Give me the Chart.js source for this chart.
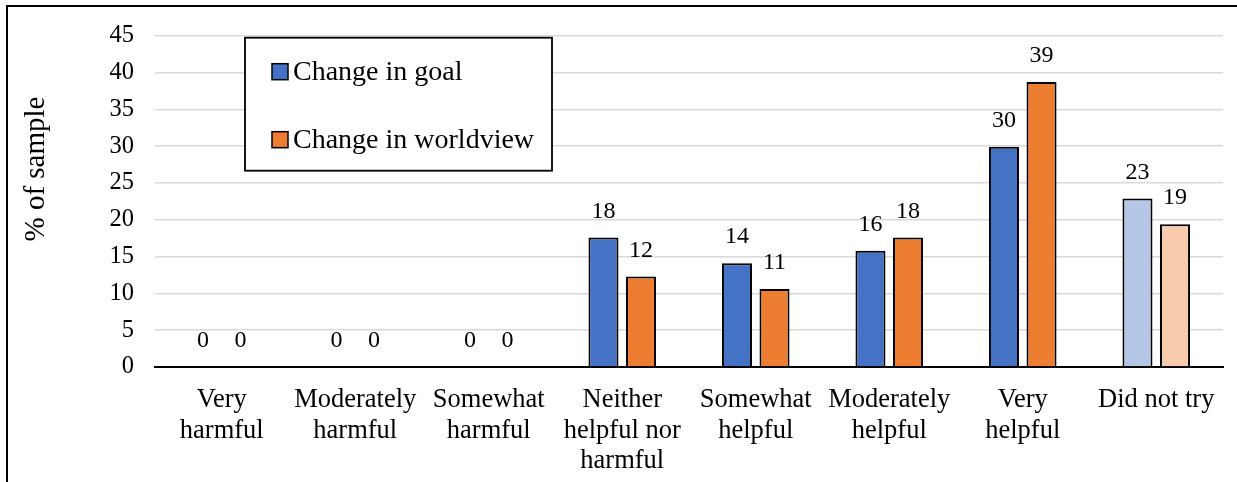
<!DOCTYPE html>
<html>
<head>
<meta charset="utf-8">
<script src="https://cdn.jsdelivr.net/npm/chart.js@4.4.0/dist/chart.umd.min.js"></script>
<style>
  html, body { margin: 0; padding: 0; background: #fff; }
  #wrap { width: 1237px; height: 482px; position: relative; }
</style>
</head>
<body>
<div id="wrap"><canvas id="chart" width="1237" height="482"></canvas></div>
<script>
// data
const categories = [
  ["Very", "harmful"],
  ["Moderately", "harmful"],
  ["Somewhat", "harmful"],
  ["Neither", "helpful nor", "harmful"],
  ["Somewhat", "helpful"],
  ["Moderately", "helpful"],
  ["Very", "helpful"],
  ["Did not try"]
];
const seriesNames = ["Change in goal", "Change in worldview"];
const goal = [0, 0, 0, 17.6, 14.1, 15.8, 29.9, 22.9];
const worldview = [0, 0, 0, 12.3, 10.6, 17.6, 38.7, 19.4];
const yMin = 0, yMax = 45, yStep = 5;
const yTitle = "% of sample";

// colours: last group is drawn paler
const blue = "#4472C4", paleBlue = "#B4C7E7";
const orange = "#ED7D31", paleOrange = "#F8CBAD";
const goalColors = categories.map((c, i) => i === categories.length - 1 ? paleBlue : blue);
const worldColors = categories.map((c, i) => i === categories.length - 1 ? paleOrange : orange);

const serif = "'Liberation Serif', 'Times New Roman', serif";

// value labels above bars + outer frame + boxed legend + axis title
const decorations = {
  id: "decorations",
  beforeDraw(chart) {
    const ctx = chart.ctx;
    ctx.save();
    ctx.fillStyle = "#fff";
    ctx.fillRect(0, 0, chart.width, chart.height);
    ctx.lineWidth = 2;
    ctx.strokeStyle = "#000";
    ctx.strokeRect(7, 6, chart.width + 20, chart.height + 20);
    // y axis title
    ctx.translate(36, 169);
    ctx.rotate(-Math.PI / 2);
    ctx.font = "29px " + serif;
    ctx.fillStyle = "#000";
    ctx.textAlign = "center";
    ctx.textBaseline = "middle";
    ctx.fillText(yTitle, 0, 0);
    ctx.restore();
  },
  afterDatasetsDraw(chart) {
    const ctx = chart.ctx;
    ctx.save();
    ctx.font = "24px " + serif;
    ctx.fillStyle = "#000";
    ctx.textAlign = "center";
    ctx.textBaseline = "bottom";
    chart.data.datasets.forEach((ds, di) => {
      chart.getDatasetMeta(di).data.forEach((bar, i) => {
        ctx.fillText(String(Math.round(ds.data[i])), bar.x, bar.y - 14);
      });
    });
    ctx.restore();
  },
  afterDraw(chart) {
    const ctx = chart.ctx;
    const a = chart.chartArea;
    const bx = a.left + 90, by = a.top + 2, bw = 307, bh = 133;
    ctx.save();
    ctx.fillStyle = "#fff";
    ctx.fillRect(bx, by, bw, bh);
    ctx.lineWidth = 1.8;
    ctx.strokeStyle = "#000";
    ctx.strokeRect(bx, by, bw, bh);
    ctx.font = "28px " + serif;
    ctx.textBaseline = "middle";
    ctx.textAlign = "left";
    const rows = [by + 34, by + 102];
    chart.data.datasets.forEach((ds, di) => {
      const y = rows[di];
      ctx.fillStyle = di === 0 ? blue : orange;
      ctx.fillRect(bx + 27, y - 8, 16, 16);
      ctx.lineWidth = 1.5;
      ctx.strokeRect(bx + 27, y - 8, 16, 16);
      ctx.fillStyle = "#000";
      ctx.fillText(ds.label, bx + 48, y + 1);
    });
    ctx.restore();
  }
};

new Chart(document.getElementById("chart"), {
  type: "bar",
  data: {
    labels: categories,
    datasets: [
      { label: seriesNames[0], data: goal, backgroundColor: goalColors },
      { label: seriesNames[1], data: worldview, backgroundColor: worldColors }
    ]
  },
  options: {
    responsive: false,
    animation: false,
    devicePixelRatio: 1,
    layout: { padding: { top: 31, right: 14, left: 0, bottom: 0 } },
    datasets: {
      bar: {
        borderColor: "#000",
        borderWidth: 2,
        barPercentage: 0.8,
        categoryPercentage: 0.5625
      }
    },
    plugins: {
      legend: { display: false },
      tooltip: { enabled: false }
    },
    scales: {
      x: {
        grid: { display: false, drawTicks: false },
        border: { display: true, color: "#000", width: 2 },
        ticks: {
          color: "#000",
          padding: 18,
          maxRotation: 0,
          autoSkip: false,
          font: { family: serif, size: 26.5, lineHeight: 1.15 }
        },
        afterFit(scale) { scale.height = 115; }
      },
      y: {
        min: yMin,
        max: yMax,
        ticks: {
          stepSize: yStep,
          color: "#000",
          padding: 21,
          font: { family: serif, size: 24.5 }
        },
        grid: { color: "#d9d9d9", lineWidth: 1.6, drawTicks: false },
        border: { display: false },
        afterFit(scale) { scale.width = 155; }
      }
    }
  },
  plugins: [decorations]
});
</script>
</body>
</html>
